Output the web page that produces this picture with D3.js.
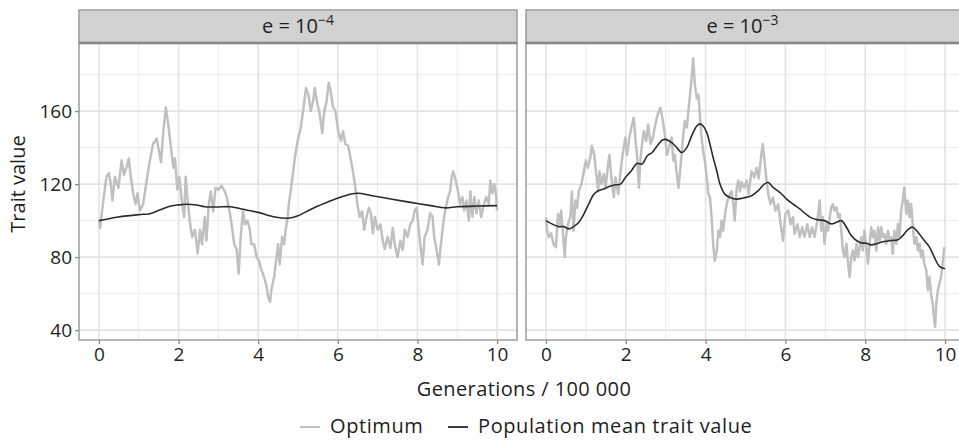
<!DOCTYPE html>
<html>
<head>
<meta charset="utf-8">
<script src="https://cdn.jsdelivr.net/npm/d3@7"></script>
<style>
  body { margin: 0; background: #fff; }
  svg text { font-family: "Open Sans", sans-serif; fill: #1e1e1e; }
</style>
</head>
<body>
<div id="wrapper"></div>
<script>
// facet labels: e = 10^exponent
const facetExponents = ["\u22124", "\u22123"];
const xTicks = [0, 2, 4, 6, 8, 10];
const xMinor = [1, 3, 5, 7, 9];
const yTicks = [40, 80, 120, 160];
const yMinor = [60, 100, 140, 180];
const legendLabels = ["Optimum", "Population mean trait value"];

// e = 10^-4 : optimum
const optimumLow = [
  [0.00,100],[0.03,96],[0.11,111],[0.19,124],[0.25,126],[0.30,120],[0.34,111],[0.40,124],[0.49,118],[0.57,133],
  [0.63,125],[0.69,129],[0.75,134],[0.80,124],[0.86,115],[0.92,109],[0.97,115],[1.03,105.5],[1.11,109],[1.20,122],
  [1.28,133],[1.36,142],[1.45,145],[1.51,138],[1.56,132],[1.62,149],[1.68,162],[1.74,153],[1.81,140],[1.87,129],
  [1.91,134],[1.97,117],[2.02,124],[2.08,111],[2.14,102],[2.18,124],[2.23,111],[2.28,100],[2.34,91],[2.41,95],
  [2.48,82],[2.54,95],[2.59,87],[2.66,102],[2.70,89],[2.76,109],[2.81,116],[2.87,105],[2.93,118],[3.00,117],
  [3.08,119],[3.16,116],[3.21,113],[3.29,104],[3.35,95],[3.40,87],[3.46,84],[3.51,71],[3.56,91],[3.62,105],
  [3.67,98],[3.73,100],[3.79,95],[3.83,87],[3.90,87],[3.96,80],[4.02,78],[4.08,73],[4.15,69],[4.21,64],
  [4.25,58],[4.30,55.5],[4.33,62],[4.40,69],[4.46,80],[4.50,87],[4.54,76],[4.60,91],[4.65,87],[4.69,95],
  [4.74,102],[4.77,109],[4.84,120],[4.88,127],[4.92,134.5],[4.99,143.6],[5.07,151],[5.15,163.6],[5.20,172.7],[5.26,169],
  [5.32,160],[5.38,165.5],[5.42,172.7],[5.49,163.6],[5.55,158],[5.61,148],[5.66,160],[5.72,165.5],[5.77,175.5],[5.82,171],
  [5.88,162],[5.94,160],[6.01,149],[6.08,143.6],[6.13,149],[6.19,142],[6.26,141],[6.33,133],[6.38,127],[6.44,118],
  [6.49,109],[6.55,102],[6.61,105],[6.66,95],[6.72,102],[6.78,107],[6.83,104],[6.88,93],[6.93,102],[7.00,95],
  [7.07,98],[7.13,89],[7.18,84.5],[7.25,91],[7.32,85],[7.38,96],[7.43,87],[7.50,80],[7.57,89],[7.63,84],
  [7.68,95],[7.75,91],[7.82,98],[7.88,100],[7.93,105.5],[7.98,107],[8.02,98],[8.07,87],[8.13,76],[8.18,91],
  [8.25,95],[8.32,104],[8.38,102],[8.42,91],[8.48,84],[8.54,76],[8.58,85],[8.63,95],[8.67,102],[8.71,107],
  [8.77,113],[8.82,116],[8.86,124],[8.90,127],[8.96,122],[9.02,116],[9.07,109],[9.13,113],[9.17,105.5],[9.23,111],
  [9.29,100],[9.33,116],[9.38,102],[9.43,113],[9.48,104],[9.54,111],[9.60,102],[9.67,109],[9.73,113],[9.79,109],
  [9.83,122],[9.88,115],[9.93,120],[9.98,113],[10.00,105.5]
];

// e = 10^-4 : population mean trait value
const meanLow = [
  [0,100],[0.49,102],[1.0,103.3],[1.28,103.8],[1.49,105.5],[1.74,107.6],[2.0,108.6],[2.2,109],[2.45,108.6],[2.66,107.6],
  [3.0,107.5],[3.3,107.6],[3.58,106.4],[4.0,104.5],[4.42,102],[4.75,101.3],[5.0,102.7],[5.34,106.4],[5.67,109.5],[6.01,112.4],
  [6.34,114.6],[6.51,115],[6.83,113.8],[7.33,111.8],[7.83,110],[8.33,108.2],[8.71,107],[9.0,107.6],[9.5,108],[10,108.2]
];

// e = 10^-3 : optimum
const optimumHigh = [
  [0.00,101.8],[0.03,94.5],[0.07,91],[0.13,93],[0.19,87],[0.25,85.5],[0.30,103.6],[0.35,98],[0.38,105.5],[0.42,94.5],
  [0.47,80],[0.50,91],[0.55,98],[0.61,102],[0.65,116],[0.69,94.5],[0.74,111],[0.78,107],[0.82,116],[0.89,120],
  [0.95,127],[1.00,133],[1.05,129],[1.11,134.5],[1.15,141],[1.21,136],[1.26,125.5],[1.31,116],[1.34,127],[1.39,120],
  [1.45,125.5],[1.49,118],[1.56,131],[1.59,136],[1.64,123.6],[1.70,112.7],[1.74,123.6],[1.81,114.5],[1.87,127],[1.92,136],
  [1.99,145.5],[2.03,136],[2.09,145.5],[2.14,151],[2.20,156.4],[2.24,145],[2.28,136],[2.33,118],[2.37,134.5],[2.41,142],
  [2.45,149],[2.51,143.6],[2.56,152.7],[2.62,142],[2.68,145.5],[2.74,152.7],[2.81,159],[2.87,161.8],[2.93,154.5],[2.98,147],
  [3.03,136],[3.08,140],[3.15,145.5],[3.19,133],[3.23,136],[3.28,125.5],[3.32,118],[3.36,127],[3.40,136],[3.44,147],
  [3.48,154.5],[3.53,151],[3.57,160],[3.61,169],[3.65,178],[3.69,189],[3.73,174.5],[3.78,167],[3.82,169],[3.86,156.4],
  [3.90,145.5],[3.94,138],[3.98,133],[4.03,123.6],[4.07,114.5],[4.11,112.7],[4.15,101.8],[4.19,87],[4.23,78],[4.28,83.6],
  [4.32,94.5],[4.36,91],[4.40,100],[4.44,94.5],[4.50,105.5],[4.55,111],[4.61,114.5],[4.65,116],[4.69,110],[4.73,100],
  [4.78,118],[4.82,122],[4.86,116],[4.90,121],[4.97,118],[5.03,122],[5.08,114.5],[5.15,127],[5.22,123.6],[5.28,129],
  [5.33,123],[5.38,133],[5.43,142],[5.47,134.5],[5.51,125.5],[5.57,114.5],[5.63,109],[5.69,112.7],[5.75,105.5],[5.82,109],
  [5.88,98],[5.94,89],[6.00,103.6],[6.07,105.5],[6.13,98],[6.19,102],[6.23,92.7],[6.30,98],[6.36,91],[6.42,96.4],
  [6.48,91],[6.55,98],[6.61,91],[6.67,96.4],[6.73,91],[6.80,100],[6.86,111],[6.90,94.5],[6.94,101.8],[6.98,87.3],
  [7.03,98.2],[7.07,94.5],[7.11,101.8],[7.15,107.3],[7.19,109.1],[7.23,105.5],[7.28,107.3],[7.32,101.8],[7.36,103.6],[7.40,94.5],
  [7.44,83.6],[7.48,80],[7.53,87.3],[7.57,76.4],[7.61,69.1],[7.65,80],[7.69,83.6],[7.73,78.2],[7.78,87.3],[7.82,80],
  [7.86,85.5],[7.90,90.9],[7.94,83.6],[7.98,94.5],[8.03,85.5],[8.07,76.4],[8.11,87.3],[8.15,96.4],[8.19,90.9],[8.23,94.5],
  [8.28,83.6],[8.32,96.4],[8.36,89.1],[8.40,96.4],[8.44,90.9],[8.48,92.7],[8.53,87.3],[8.57,94.5],[8.61,89.1],[8.65,90.9],
  [8.69,81.8],[8.73,94.5],[8.78,87.3],[8.82,98.2],[8.86,90.9],[8.90,105.5],[8.94,110.9],[8.98,118.2],[9.03,103.6],[9.07,110.9],
  [9.11,101.8],[9.15,109.1],[9.19,98.2],[9.23,87.3],[9.28,90.9],[9.32,83.6],[9.36,87.3],[9.40,80],[9.44,83.6],[9.48,76.4],
  [9.53,72.7],[9.57,61.8],[9.61,69.1],[9.65,60],[9.69,54.5],[9.73,45.5],[9.75,41.8],[9.78,54.5],[9.82,61.8],[9.86,65.5],
  [9.90,69.1],[9.94,76.4],[9.98,85.5]
];

// e = 10^-3 : population mean trait value
const meanHigh = [
  [0,100],[0.15,98.2],[0.32,96.7],[0.45,96.7],[0.57,95.5],[0.69,96.7],[0.82,99],[0.95,103.6],[1.07,109],[1.20,114.5],
  [1.31,116.4],[1.45,117.3],[1.62,119],[1.74,119.6],[1.87,120],[1.99,123.6],[2.14,127.3],[2.28,131.3],[2.41,131],[2.54,135.5],
  [2.66,137.3],[2.79,141],[2.91,144],[3.0,144.5],[3.15,142.7],[3.28,140],[3.40,137.3],[3.53,140],[3.65,146.4],[3.78,151.8],
  [3.86,153],[3.94,151.8],[4.03,148.2],[4.11,141.8],[4.19,134.5],[4.28,127.3],[4.36,120],[4.48,114.5],[4.61,112.7],[4.78,111.8],
  [4.94,112.4],[5.15,113.6],[5.32,116.4],[5.47,120],[5.57,120.9],[5.69,118.2],[5.86,115.5],[6.03,111.8],[6.19,109.1],[6.36,106.4],
  [6.53,103.3],[6.65,101.5],[6.82,100.4],[6.98,100],[7.15,98.2],[7.28,99.1],[7.40,100],[7.53,96.4],[7.65,91.8],[7.78,89.1],
  [7.90,87.8],[8.03,87.6],[8.15,86.7],[8.28,87.3],[8.40,88.2],[8.53,88.7],[8.65,89.1],[8.82,89.5],[8.94,91.8],[9.07,95.1],
  [9.19,96.4],[9.32,93.6],[9.48,89.1],[9.61,85.5],[9.73,80],[9.86,74.9],[10,73.6]
];

const colors = { optimum: "#c0c0c0", mean: "#2b2b2b", grid: "#ebebeb", border: "#9c9c9c", strip: "#d1d1d1" };

function drawChart() {
    let dimensions = {
        width: 959,
        height: 440,
        stripTop: 10,
        panelTop: 43,
        panelBottom: 340,
        panels: [
            { left: 79, right: 517 },
            { left: 526, right: 965 }
        ]
    };

    const facets = [
        { exponent: facetExponents[0], optimum: optimumLow, mean: meanLow },
        { exponent: facetExponents[1], optimum: optimumHigh, mean: meanHigh }
    ];

    const wrapper = d3.select("#wrapper")
    .append("svg")
    .attr("width", dimensions.width)
    .attr("height", dimensions.height);

    const yScale = d3.scaleLinear()
    .domain([34.6, 197.3])
    .range([dimensions.panelBottom, dimensions.panelTop]);

    facets.forEach((facet, i) => {
        const p = dimensions.panels[i];
        const xScale = d3.scaleLinear()
        .domain([-0.5, 10.5])
        .range([p.left, p.right]);

        const panel = wrapper.append("g");

        // minor grid then major grid
        panel.selectAll(".xminor").data(xMinor).join("line")
        .attr("x1", d => xScale(d)).attr("x2", d => xScale(d))
        .attr("y1", dimensions.panelTop).attr("y2", dimensions.panelBottom)
        .attr("stroke", colors.grid).attr("stroke-width", 1);
        panel.selectAll(".yminor").data(yMinor).join("line")
        .attr("x1", p.left).attr("x2", p.right)
        .attr("y1", d => yScale(d)).attr("y2", d => yScale(d))
        .attr("stroke", colors.grid).attr("stroke-width", 1);
        panel.selectAll(".xmajor").data(xTicks).join("line")
        .attr("x1", d => xScale(d)).attr("x2", d => xScale(d))
        .attr("y1", dimensions.panelTop).attr("y2", dimensions.panelBottom)
        .attr("stroke", "#e3e3e3").attr("stroke-width", 1.6);
        panel.selectAll(".ymajor").data(yTicks).join("line")
        .attr("x1", p.left).attr("x2", p.right)
        .attr("y1", d => yScale(d)).attr("y2", d => yScale(d))
        .attr("stroke", "#e3e3e3").attr("stroke-width", 1.6);

        const line = d3.line()
        .x(d => xScale(d[0]))
        .y(d => yScale(d[1]));

        panel.append("path")
        .datum(facet.optimum)
        .attr("d", line)
        .attr("fill", "none")
        .attr("stroke", colors.optimum)
        .attr("stroke-width", 2.5)
        .attr("stroke-linejoin", "round");

        panel.append("path")
        .datum(facet.mean)
        .attr("d", line.curve(d3.curveCatmullRom))
        .attr("fill", "none")
        .attr("stroke", colors.mean)
        .attr("stroke-width", 1.6);

        // panel border
        panel.append("rect")
        .attr("x", p.left).attr("y", dimensions.panelTop)
        .attr("width", p.right - p.left)
        .attr("height", dimensions.panelBottom - dimensions.panelTop)
        .attr("fill", "none")
        .attr("stroke", colors.border)
        .attr("stroke-width", 1.5);

        // strip
        panel.append("rect")
        .attr("x", p.left).attr("y", dimensions.stripTop)
        .attr("width", p.right - p.left)
        .attr("height", dimensions.panelTop - dimensions.stripTop)
        .attr("fill", colors.strip)
        .attr("stroke", colors.border)
        .attr("stroke-width", 1.5);
        panel.append("line")
        .attr("x1", p.left).attr("x2", p.right)
        .attr("y1", dimensions.panelTop).attr("y2", dimensions.panelTop)
        .attr("stroke", "#858585").attr("stroke-width", 2.5);

        const stripText = panel.append("text")
        .attr("x", (p.left + p.right) / 2 - (i == 1 ? 3 : 0))
        .attr("y", 33)
        .attr("text-anchor", "middle")
        .style("font-size", "20px");
        stripText.append("tspan").text("e = 10");
        stripText.append("tspan")
        .attr("dy", -8)
        .style("font-size", "14px")
        .text(facet.exponent);

        // x axis
        const xAxis = panel.append("g")
        .attr("transform", `translate(0, ${dimensions.panelBottom})`)
        .call(d3.axisBottom(xScale).tickValues(xTicks).tickSize(4).tickPadding(4));
        xAxis.select(".domain").remove();
        xAxis.selectAll(".tick line").attr("stroke", "#8a8a8a").attr("stroke-width", 1.3);
        xAxis.selectAll(".tick text")
        .style("font-size", "19px")
        .style("font-family", "'Open Sans', sans-serif")
        .attr("fill", "#1e1e1e");

        if (i == 0) {
            const yAxis = panel.append("g")
            .attr("transform", `translate(${p.left}, 0)`)
            .call(d3.axisLeft(yScale).tickValues(yTicks).tickSize(4).tickPadding(3));
            yAxis.select(".domain").remove();
            yAxis.selectAll(".tick line").attr("stroke", "#8a8a8a").attr("stroke-width", 1.3);
            yAxis.selectAll(".tick text")
            .style("font-size", "19px")
            .style("font-family", "'Open Sans', sans-serif")
            .attr("fill", "#1e1e1e");
        }
    });

    // axis titles
    wrapper.append("text")
    .attr("x", 524)
    .attr("y", 396)
    .attr("text-anchor", "middle")
    .style("font-size", "20px")
    .style("letter-spacing", "0.4px")
    .text("Generations / 100 000");

    wrapper.append("text")
    .attr("transform", "translate(25, 184) rotate(-90)")
    .attr("text-anchor", "middle")
    .style("font-size", "20px")
    .text("Trait value");

    // legend
    const legend = wrapper.append("g");
    const legendItems = [
        { label: legendLabels[0], color: colors.optimum, x: 300 },
        { label: legendLabels[1], color: colors.mean, x: 448 }
    ];
    legendItems.forEach(item => {
        legend.append("line")
        .attr("x1", item.x).attr("x2", item.x + 20)
        .attr("y1", 427).attr("y2", 427)
        .attr("stroke", item.color)
        .attr("stroke-width", item.color == colors.mean ? 1.8 : 2);
        legend.append("text")
        .attr("x", item.x + 30)
        .attr("y", 433)
        .style("font-size", "20px")
        .style("letter-spacing", "0.6px")
        .text(item.label);
    });
}

drawChart();
</script>
</body>
</html>
